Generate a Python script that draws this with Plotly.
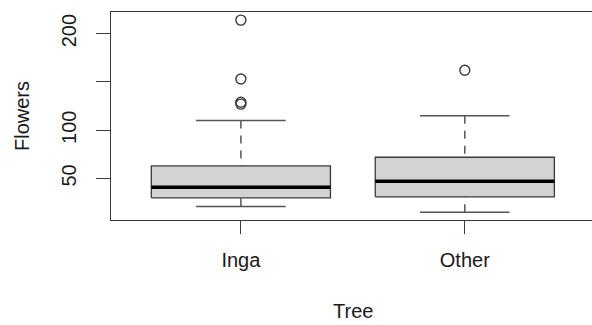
import plotly.graph_objects as go

# Five-number summaries per tree group (R boxplot style) and outlying counts
categories = ["Inga", "Other"]
lower_whisker = [21, 15]
q1 = [30, 31]
median = [41, 47]
q3 = [63, 72]
upper_whisker = [110, 115]
outliers = [[127, 129, 153, 214], [162]]

# 150 keeps its tick mark but its label is dropped (overlap rule of the base graphics)
y_ticks = [50, 100, 150, 200]
y_tick_labels = ["50", "100", "", "200"]

BOX_HALF = 0.4
CAP_HALF = 0.2
LINE = "#3a3a3a"
FONT = "Liberation Sans, Arial, sans-serif"

fig = go.Figure()

wx, wy, cx, cy, bx, by, mx, my, ox, oy = ([] for _ in range(10))
for i, name in enumerate(categories):
    c = i + 1
    # dashed whiskers from box edges to caps
    wx += [c, c, None, c, c, None]
    wy += [upper_whisker[i], q3[i], None, lower_whisker[i], q1[i], None]
    # whisker caps
    cx += [c - CAP_HALF, c + CAP_HALF, None, c - CAP_HALF, c + CAP_HALF, None]
    cy += [upper_whisker[i], upper_whisker[i], None, lower_whisker[i], lower_whisker[i], None]
    # box outline
    bx += [c - BOX_HALF, c + BOX_HALF, c + BOX_HALF, c - BOX_HALF, c - BOX_HALF, None]
    by += [q1[i], q1[i], q3[i], q3[i], q1[i], None]
    # median bar
    mx += [c - BOX_HALF, c + BOX_HALF, None]
    my += [median[i], median[i], None]
    for v in outliers[i]:
        ox.append(c)
        oy.append(v)

fig.add_trace(go.Scatter(x=wx, y=wy, mode="lines",
                         line=dict(color="#555555", width=1.5, dash="8px,7px"),
                         hoverinfo="skip"))
fig.add_trace(go.Scatter(x=cx, y=cy, mode="lines",
                         line=dict(color="#555555", width=1.4), hoverinfo="skip"))
fig.add_trace(go.Scatter(x=bx, y=by, mode="lines", fill="toself",
                         fillcolor="#D3D3D3",
                         line=dict(color=LINE, width=1.3), hoverinfo="skip"))
fig.add_trace(go.Scatter(x=mx, y=my, mode="lines",
                         line=dict(color="#000000", width=3.5), hoverinfo="skip"))
fig.add_trace(go.Scatter(x=ox, y=oy, mode="markers",
                         marker=dict(symbol="circle-open", size=10,
                                     color=LINE, line=dict(width=1.4)),
                         hoverinfo="skip"))

fig.update_layout(
    width=592, height=325,
    margin=dict(l=111, r=0, t=12, b=105),
    paper_bgcolor="white", plot_bgcolor="white",
    showlegend=False,
    font=dict(family=FONT, size=20, color="#1a1a1a"),
    xaxis=dict(
        range=[0.42, 2.568],
        tickvals=[1, 2], ticktext=categories,
        showgrid=False, zeroline=False,
        showline=True, mirror=True, linecolor=LINE, linewidth=1.2,
        ticks="outside", ticklen=13, tickcolor=LINE, tickwidth=1.2,
        ticklabelstandoff=9,
        tickfont=dict(family=FONT, size=20, color="#1a1a1a"),
    ),
    yaxis=dict(
        range=[7.0, 222.4],
        tickvals=y_ticks, ticktext=y_tick_labels,
        tickangle=-90,
        showgrid=False, zeroline=False,
        showline=True, linecolor=LINE, linewidth=1.2,
        ticks="outside", ticklen=14, tickcolor=LINE, tickwidth=1.2,
        ticklabelstandoff=12,
        tickfont=dict(family=FONT, size=20, color="#1a1a1a"),
    ),
    annotations=[
        dict(text="Tree", xref="paper", yref="paper", x=0.503, y=-0.4375,
             xanchor="center", yanchor="middle", showarrow=False,
             font=dict(family=FONT, size=20, color="#1a1a1a")),
        dict(text="Flowers", xref="paper", yref="paper", x=-0.185, y=0.5,
             xanchor="center", yanchor="middle", textangle=-90, showarrow=False,
             font=dict(family=FONT, size=20, color="#1a1a1a")),
    ],
)

fig.write_html("out.html")
